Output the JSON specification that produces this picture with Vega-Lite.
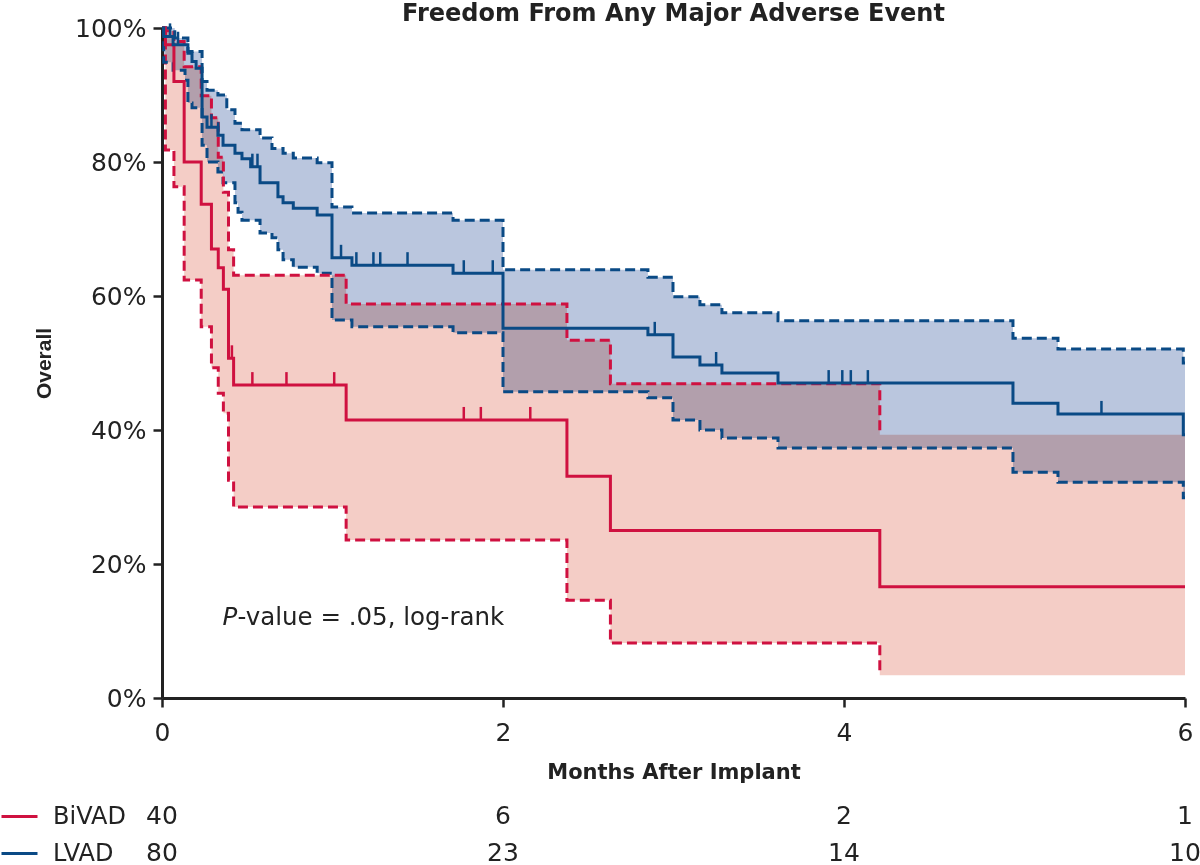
{
  "$schema": "https://vega.github.io/schema/vega-lite/v6.json",
  "padding": {"left": 0, "top": 2, "right": 0, "bottom": 0},
  "background": "white",
  "config": {
    "font": "DejaVu Sans",
    "view": {"stroke": null},
    "concat": {"spacing": 15}
  },
  "resolve": {"scale": {"stroke": "independent", "x": "independent", "y": "independent"}, "legend": {"stroke": "independent"}},
  "datasets": {
    "km": [
      {"group": "BiVAD", "t": 0, "s": 100},
      {"group": "BiVAD", "t": 0.02, "s": 97.5},
      {"group": "BiVAD", "t": 0.07, "s": 92},
      {"group": "BiVAD", "t": 0.13, "s": 80},
      {"group": "BiVAD", "t": 0.23, "s": 73.7},
      {"group": "BiVAD", "t": 0.29, "s": 67},
      {"group": "BiVAD", "t": 0.33, "s": 64.2},
      {"group": "BiVAD", "t": 0.36, "s": 61},
      {"group": "BiVAD", "t": 0.39, "s": 50.7},
      {"group": "BiVAD", "t": 0.42, "s": 46.7},
      {"group": "BiVAD", "t": 1.08, "s": 41.5},
      {"group": "BiVAD", "t": 2.375, "s": 33.1},
      {"group": "BiVAD", "t": 2.63, "s": 25},
      {"group": "BiVAD", "t": 4.21, "s": 16.6},
      {"group": "BiVAD", "t": 6.0, "s": 16.6},
      {"group": "LVAD", "t": 0, "s": 100},
      {"group": "LVAD", "t": 0.01, "s": 98.75},
      {"group": "LVAD", "t": 0.065, "s": 97.5},
      {"group": "LVAD", "t": 0.152, "s": 96.25},
      {"group": "LVAD", "t": 0.176, "s": 95},
      {"group": "LVAD", "t": 0.2, "s": 94},
      {"group": "LVAD", "t": 0.235, "s": 86.7},
      {"group": "LVAD", "t": 0.264, "s": 85.2},
      {"group": "LVAD", "t": 0.328, "s": 84},
      {"group": "LVAD", "t": 0.358, "s": 82.5},
      {"group": "LVAD", "t": 0.428, "s": 81.3},
      {"group": "LVAD", "t": 0.469, "s": 80.5},
      {"group": "LVAD", "t": 0.52, "s": 79.3},
      {"group": "LVAD", "t": 0.575, "s": 76.9},
      {"group": "LVAD", "t": 0.68, "s": 74.8},
      {"group": "LVAD", "t": 0.71, "s": 73.9},
      {"group": "LVAD", "t": 0.77, "s": 73.1},
      {"group": "LVAD", "t": 0.91, "s": 72.1},
      {"group": "LVAD", "t": 0.997, "s": 65.7},
      {"group": "LVAD", "t": 1.114, "s": 64.6},
      {"group": "LVAD", "t": 1.707, "s": 63.4},
      {"group": "LVAD", "t": 2.0, "s": 55.2},
      {"group": "LVAD", "t": 2.85, "s": 54.2},
      {"group": "LVAD", "t": 2.997, "s": 50.9},
      {"group": "LVAD", "t": 3.155, "s": 49.7},
      {"group": "LVAD", "t": 3.284, "s": 48.5},
      {"group": "LVAD", "t": 3.613, "s": 47.0},
      {"group": "LVAD", "t": 4.991, "s": 44.0},
      {"group": "LVAD", "t": 5.255, "s": 42.4},
      {"group": "LVAD", "t": 5.99, "s": 39.3},
      {"group": "LVAD", "t": 6.0, "s": 39.3}
    ],
    "ci": [
      {"group": "BiVAD", "t": 0, "lo": 100, "hi": 100},
      {"group": "BiVAD", "t": 0.02, "lo": 81.8, "hi": 99.6},
      {"group": "BiVAD", "t": 0.07, "lo": 76.3, "hi": 98},
      {"group": "BiVAD", "t": 0.13, "lo": 62.4, "hi": 94.2},
      {"group": "BiVAD", "t": 0.23, "lo": 55.4, "hi": 89.9},
      {"group": "BiVAD", "t": 0.29, "lo": 49.3, "hi": 86.6},
      {"group": "BiVAD", "t": 0.33, "lo": 45.5, "hi": 80.7},
      {"group": "BiVAD", "t": 0.36, "lo": 42.5, "hi": 75.5},
      {"group": "BiVAD", "t": 0.39, "lo": 32.5, "hi": 66.9},
      {"group": "BiVAD", "t": 0.42, "lo": 28.5, "hi": 63.1},
      {"group": "BiVAD", "t": 1.08, "lo": 23.6, "hi": 58.8},
      {"group": "BiVAD", "t": 2.375, "lo": 14.6, "hi": 53.4},
      {"group": "BiVAD", "t": 2.63, "lo": 8.2, "hi": 46.9},
      {"group": "BiVAD", "t": 4.21, "lo": 3.4, "hi": 39.3},
      {"group": "BiVAD", "t": 6.0, "lo": 3.4, "hi": 39.3},
      {"group": "LVAD", "t": 0, "lo": 100, "hi": 100},
      {"group": "LVAD", "t": 0.01, "lo": 94.9, "hi": 100},
      {"group": "LVAD", "t": 0.065, "lo": 93.7, "hi": 100},
      {"group": "LVAD", "t": 0.075, "lo": 93.7, "hi": 98.5},
      {"group": "LVAD", "t": 0.135, "lo": 92.2, "hi": 98.5},
      {"group": "LVAD", "t": 0.152, "lo": 88.8, "hi": 96.5},
      {"group": "LVAD", "t": 0.176, "lo": 88.1, "hi": 96.5},
      {"group": "LVAD", "t": 0.235, "lo": 82.5, "hi": 92},
      {"group": "LVAD", "t": 0.264, "lo": 80, "hi": 90.7},
      {"group": "LVAD", "t": 0.328, "lo": 78.5, "hi": 90},
      {"group": "LVAD", "t": 0.358, "lo": 76.9, "hi": 90},
      {"group": "LVAD", "t": 0.38, "lo": 76.9, "hi": 87.8},
      {"group": "LVAD", "t": 0.428, "lo": 73.9, "hi": 85.8},
      {"group": "LVAD", "t": 0.446, "lo": 72.5, "hi": 85.8},
      {"group": "LVAD", "t": 0.469, "lo": 71.3, "hi": 84.8},
      {"group": "LVAD", "t": 0.575, "lo": 69.4, "hi": 83.6},
      {"group": "LVAD", "t": 0.645, "lo": 68.7, "hi": 82},
      {"group": "LVAD", "t": 0.68, "lo": 66.9, "hi": 82},
      {"group": "LVAD", "t": 0.71, "lo": 65.4, "hi": 81.3},
      {"group": "LVAD", "t": 0.77, "lo": 64.3, "hi": 80.6},
      {"group": "LVAD", "t": 0.91, "lo": 63.4, "hi": 79.9},
      {"group": "LVAD", "t": 0.997, "lo": 56.4, "hi": 73.3},
      {"group": "LVAD", "t": 1.114, "lo": 55.4, "hi": 72.4},
      {"group": "LVAD", "t": 1.707, "lo": 54.5, "hi": 71.3},
      {"group": "LVAD", "t": 2.0, "lo": 45.7, "hi": 63.9},
      {"group": "LVAD", "t": 2.85, "lo": 44.8, "hi": 62.8},
      {"group": "LVAD", "t": 2.997, "lo": 41.5, "hi": 59.9},
      {"group": "LVAD", "t": 3.155, "lo": 40, "hi": 58.7},
      {"group": "LVAD", "t": 3.284, "lo": 38.8, "hi": 57.5},
      {"group": "LVAD", "t": 3.613, "lo": 37.3, "hi": 56.3},
      {"group": "LVAD", "t": 4.991, "lo": 33.7, "hi": 53.7},
      {"group": "LVAD", "t": 5.255, "lo": 32.2, "hi": 52.1},
      {"group": "LVAD", "t": 5.99, "lo": 29.9, "hi": 50},
      {"group": "LVAD", "t": 6.0, "lo": 29.9, "hi": 50}
    ],
    "cens": [
      {"group": "BiVAD", "t": 0.41, "s": 50.7},
      {"group": "BiVAD", "t": 0.53, "s": 46.7},
      {"group": "BiVAD", "t": 0.73, "s": 46.7},
      {"group": "BiVAD", "t": 1.01, "s": 46.7},
      {"group": "BiVAD", "t": 1.77, "s": 41.5},
      {"group": "BiVAD", "t": 1.87, "s": 41.5},
      {"group": "BiVAD", "t": 2.16, "s": 41.5},
      {"group": "LVAD", "t": 0.047, "s": 98.75},
      {"group": "LVAD", "t": 0.094, "s": 97.5},
      {"group": "LVAD", "t": 0.29, "s": 85.2},
      {"group": "LVAD", "t": 0.33, "s": 84},
      {"group": "LVAD", "t": 0.53, "s": 79.3},
      {"group": "LVAD", "t": 0.56, "s": 79.3},
      {"group": "LVAD", "t": 1.05, "s": 65.7},
      {"group": "LVAD", "t": 1.14, "s": 64.6},
      {"group": "LVAD", "t": 1.24, "s": 64.6},
      {"group": "LVAD", "t": 1.28, "s": 64.6},
      {"group": "LVAD", "t": 1.44, "s": 64.6},
      {"group": "LVAD", "t": 1.77, "s": 63.4},
      {"group": "LVAD", "t": 1.94, "s": 63.4},
      {"group": "LVAD", "t": 2.89, "s": 54.2},
      {"group": "LVAD", "t": 3.25, "s": 49.7},
      {"group": "LVAD", "t": 3.91, "s": 47.0},
      {"group": "LVAD", "t": 3.99, "s": 47.0},
      {"group": "LVAD", "t": 4.04, "s": 47.0},
      {"group": "LVAD", "t": 4.14, "s": 47.0},
      {"group": "LVAD", "t": 5.51, "s": 42.4}
    ],
    "risk": [
      {"group": "BiVAD", "t": 0, "n": 40},
      {"group": "BiVAD", "t": 2, "n": 6},
      {"group": "BiVAD", "t": 4, "n": 2},
      {"group": "BiVAD", "t": 6, "n": 1},
      {"group": "LVAD", "t": 0, "n": 80},
      {"group": "LVAD", "t": 2, "n": 23},
      {"group": "LVAD", "t": 4, "n": 14},
      {"group": "LVAD", "t": 6, "n": 10}
    ]
  },
  "vconcat": [
    {
      "width": 1023,
      "height": 670,
      "title": {"text": "Freedom From Any Major Adverse Event", "fontSize": 24, "fontWeight": "bold", "anchor": "middle", "offset": -10, "color": "#222"},
      "layer": [
        {
          "data": {"name": "ci"},
          "mark": {"type": "area", "interpolate": "step-after", "blend": "multiply", "opacity": 1},
          "encoding": {
            "x": {"field": "t", "type": "quantitative", "scale": {"domain": [0, 6], "nice": false, "zero": false},
              "axis": {"values": [0, 2, 4, 6], "format": "d", "title": "Months After Implant", "titleFontSize": 21, "titleFontWeight": "bold", "titleColor": "#222", "labelFontSize": 25, "labelColor": "#222", "domainColor": "#222", "domainWidth": 3, "tickColor": "#222", "tickWidth": 2.5, "tickSize": 9, "grid": false, "labelPadding": 13, "titlePadding": 16, "labelFlush": false}},
            "y": {"field": "lo", "type": "quantitative", "scale": {"domain": [0, 100], "nice": false},
              "axis": {"values": [0, 20, 40, 60, 80, 100], "labelExpr": "datum.value + '%'", "title": "Overall", "titleFont": "Liberation Sans", "titleFontSize": 21, "titleFontWeight": "bold", "titleColor": "#222", "labelFontSize": 25, "labelColor": "#222", "domainColor": "#222", "domainWidth": 3, "tickColor": "#222", "tickWidth": 2.5, "tickSize": 9, "grid": false, "labelPadding": 7, "titlePadding": 20, "labelFlush": false}},
            "y2": {"field": "hi"},
            "fill": {"field": "group", "type": "nominal", "scale": {"domain": ["BiVAD", "LVAD"], "range": ["#f4cdc6", "#bac6de"]}, "legend": null}
          }
        },
        {
          "data": {"name": "ci"},
          "transform": [{"filter": "datum.group == 'LVAD' || datum.t <= 4.3"}],
          "mark": {"type": "line", "interpolate": "step-after", "strokeWidth": 3, "strokeDash": [10, 5]},
          "encoding": {
            "x": {"field": "t", "type": "quantitative"},
            "y": {"field": "lo", "type": "quantitative"},
            "stroke": {"field": "group", "type": "nominal", "scale": {"domain": ["BiVAD", "LVAD"], "range": ["#cf1140", "#0a4a85"]}, "legend": null}
          }
        },
        {
          "data": {"name": "ci"},
          "transform": [{"filter": "datum.group == 'LVAD' || datum.t <= 4.3"}],
          "mark": {"type": "line", "interpolate": "step-after", "strokeWidth": 3, "strokeDash": [10, 5]},
          "encoding": {
            "x": {"field": "t", "type": "quantitative"},
            "y": {"field": "hi", "type": "quantitative"},
            "stroke": {"field": "group", "type": "nominal", "legend": null}
          }
        },
        {
          "data": {"name": "km"},
          "mark": {"type": "line", "interpolate": "step-after", "strokeWidth": 3},
          "encoding": {
            "x": {"field": "t", "type": "quantitative"},
            "y": {"field": "s", "type": "quantitative"},
            "stroke": {"field": "group", "type": "nominal", "legend": null}
          }
        },
        {
          "data": {"name": "cens"},
          "mark": {"type": "point", "shape": "M0,0L0,-2", "size": 169, "strokeWidth": 2.5, "filled": false, "opacity": 1},
          "encoding": {
            "x": {"field": "t", "type": "quantitative"},
            "y": {"field": "s", "type": "quantitative"},
            "stroke": {"field": "group", "type": "nominal", "legend": null}
          }
        },
        {
          "data": {"values": [{"label": "P"}]},
          "mark": {"type": "text", "fontSize": 24.5, "fontStyle": "italic", "align": "left", "baseline": "middle", "color": "#222"},
          "encoding": {"x": {"datum": 0.355}, "y": {"datum": 12}, "text": {"field": "label"}}
        },
        {
          "data": {"values": [{"label": "-value = .05, log-rank"}]},
          "mark": {"type": "text", "fontSize": 24.5, "align": "left", "baseline": "middle", "dx": 15, "color": "#222"},
          "encoding": {"x": {"datum": 0.355}, "y": {"datum": 12}, "text": {"field": "label"}}
        }
      ]
    },
    {
      "width": 1023,
      "height": 74,
      "data": {"name": "risk"},
      "layer": [
        {
          "mark": {"type": "rule", "opacity": 0},
          "encoding": {
            "y": {"field": "group", "type": "nominal", "axis": null, "scale": {"domain": ["BiVAD", "LVAD"], "paddingInner": 0, "paddingOuter": 0}},
            "stroke": {"field": "group", "type": "nominal", "scale": {"domain": ["BiVAD", "LVAD"], "range": ["#cf1140", "#0a4a85"]},
              "legend": {"orient": "left", "title": null, "symbolType": "stroke", "symbolSize": 1296, "symbolStrokeWidth": 3, "symbolOpacity": 1, "labelFontSize": 24, "labelColor": "#222", "labelOffset": 14, "rowPadding": 5, "offset": 36, "padding": 0}}
          }
        },
        {
          "mark": {"type": "text", "fontSize": 25, "baseline": "middle", "color": "#222"},
          "encoding": {
            "x": {"field": "t", "type": "quantitative", "scale": {"domain": [0, 6], "nice": false, "zero": false}, "axis": null},
            "y": {"field": "group", "type": "nominal", "axis": null},
            "text": {"field": "n", "type": "quantitative"}
          }
        }
      ]
    }
  ]
}
